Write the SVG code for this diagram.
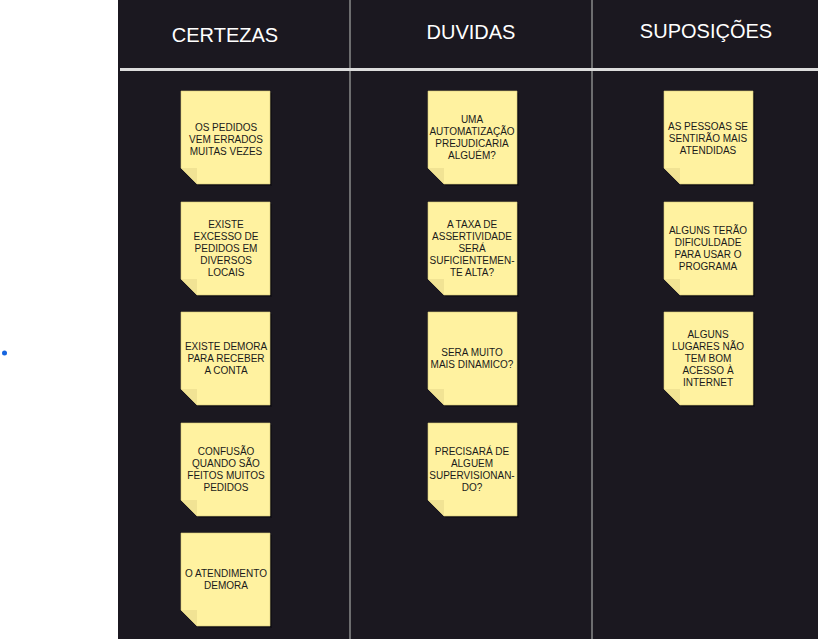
<svg xmlns="http://www.w3.org/2000/svg" width="818" height="639" viewBox="0 0 818 639">
<defs>
<style>
.hdr{font-family:"Liberation Sans",Arial,sans-serif;font-size:20px;fill:#ffffff;text-anchor:middle}
.nt{font-family:"Liberation Sans",Arial,sans-serif;font-size:10px;fill:#1a1a1a;text-anchor:middle}
.note{fill:#fff2a0;stroke:#d6c97a;stroke-width:0.6}
.fold{fill:#f1e394}
.shadow{fill:#0d0b10;opacity:0.6}
</style>
<symbol id="sticky" overflow="visible">
<path class="shadow" d="M2,2 H91 V95 H18 L2,79 Z"/>
<path class="note" d="M0,0 H89 V93 H16 L0,77 Z"/>
<path class="fold" d="M0,77 H16 V93 Z"/>
</symbol>
</defs>
<rect x="0" y="0" width="818" height="639" fill="#ffffff"/>
<circle cx="4.5" cy="353" r="2.5" fill="#1565e0"/>
<rect x="118" y="0" width="700" height="639" fill="#1b1820"/>
<g id="lines">
<line x1="350" y1="0" x2="350" y2="639" stroke="#8a8a8a" stroke-width="1.5"/>
<line x1="592" y1="0" x2="592" y2="639" stroke="#8a8a8a" stroke-width="1.5"/>
<line x1="120" y1="69.5" x2="818" y2="69.5" stroke="#dcdcdc" stroke-width="3"/>
</g>
<g id="headers">
<text class="hdr" x="225" y="42">CERTEZAS</text>
<text class="hdr" x="471" y="39">DUVIDAS</text>
<text class="hdr" x="706" y="38">SUPOSIÇÕES</text>
</g>
<g id="c1"><use href="#sticky" x="181" y="91"/><text class="nt"><tspan x="226" y="131">OS PEDIDOS</tspan><tspan x="226" y="143">VEM ERRADOS</tspan><tspan x="226" y="155">MUITAS VEZES</tspan></text></g>
<g id="c2"><use href="#sticky" x="181" y="202"/><text class="nt"><tspan x="226" y="228">EXISTE</tspan><tspan x="226" y="240">EXCESSO DE</tspan><tspan x="226" y="252">PEDIDOS EM</tspan><tspan x="226" y="264">DIVERSOS</tspan><tspan x="226" y="276">LOCAIS</tspan></text></g>
<g id="c3"><use href="#sticky" x="181" y="312"/><text class="nt"><tspan x="226" y="350">EXISTE DEMORA</tspan><tspan x="226" y="362">PARA RECEBER</tspan><tspan x="226" y="374">A CONTA</tspan></text></g>
<g id="c4"><use href="#sticky" x="181" y="423"/><text class="nt"><tspan x="226" y="455">CONFUSÃO</tspan><tspan x="226" y="467">QUANDO SÃO</tspan><tspan x="226" y="479">FEITOS MUITOS</tspan><tspan x="226" y="491">PEDIDOS</tspan></text></g>
<g id="c5"><use href="#sticky" x="181" y="533"/><text class="nt"><tspan x="226" y="577">O ATENDIMENTO</tspan><tspan x="226" y="589">DEMORA</tspan></text></g>
<g id="d1"><use href="#sticky" x="428" y="91"/><text class="nt"><tspan x="472" y="123">UMA</tspan><tspan x="472" y="135">AUTOMATIZAÇÃO</tspan><tspan x="472" y="147">PREJUDICARIA</tspan><tspan x="472" y="159">ALGUÉM?</tspan></text></g>
<g id="d2"><use href="#sticky" x="428" y="202"/><text class="nt"><tspan x="472" y="228">A TAXA DE</tspan><tspan x="472" y="240">ASSERTIVIDADE</tspan><tspan x="472" y="252">SERÁ</tspan><tspan x="472" y="264">SUFICIENTEMEN-</tspan><tspan x="472" y="276">TE ALTA?</tspan></text></g>
<g id="d3"><use href="#sticky" x="428" y="312"/><text class="nt"><tspan x="472" y="356">SERA MUITO</tspan><tspan x="472" y="368">MAIS DINAMICO?</tspan></text></g>
<g id="d4"><use href="#sticky" x="428" y="423"/><text class="nt"><tspan x="472" y="455">PRECISARÁ DE</tspan><tspan x="472" y="467">ALGUEM</tspan><tspan x="472" y="479">SUPERVISIONAN-</tspan><tspan x="472" y="491">DO?</tspan></text></g>
<g id="s1"><use href="#sticky" x="664" y="91"/><text class="nt"><tspan x="708" y="130">AS PESSOAS SE</tspan><tspan x="708" y="142">SENTIRÃO MAIS</tspan><tspan x="708" y="154">ATENDIDAS</tspan></text></g>
<g id="s2"><use href="#sticky" x="664" y="202"/><text class="nt"><tspan x="708" y="234">ALGUNS TERÃO</tspan><tspan x="708" y="246">DIFICULDADE</tspan><tspan x="708" y="258">PARA USAR O</tspan><tspan x="708" y="270">PROGRAMA</tspan></text></g>
<g id="s3"><use href="#sticky" x="664" y="312"/><text class="nt"><tspan x="708" y="338">ALGUNS</tspan><tspan x="708" y="350">LUGARES NÃO</tspan><tspan x="708" y="362">TEM BOM</tspan><tspan x="708" y="374">ACESSO À</tspan><tspan x="708" y="386">INTERNET</tspan></text></g>
</svg>
